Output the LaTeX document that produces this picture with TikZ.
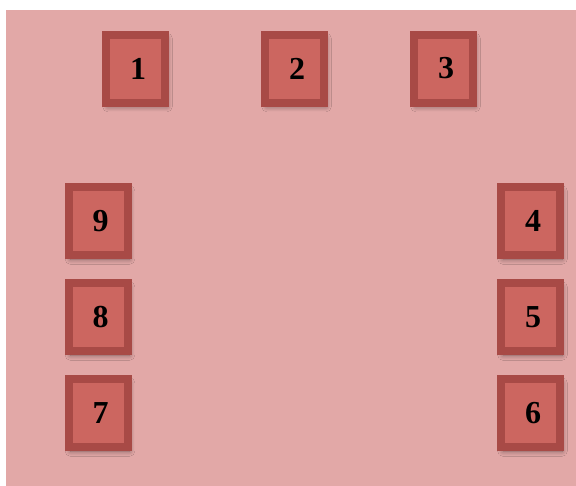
\documentclass[tikz,border=0pt]{standalone}
\usepackage{fontspec}
\setmainfont{Liberation Serif}
\usetikzlibrary{shadows.blur}
\definecolor{bgpink}{RGB}{226,168,167}
\definecolor{boxedge}{RGB}{168,74,70}
\definecolor{boxfill}{RGB}{204,102,96}
\tikzset{
  seat/.style={draw=boxedge, line width=6pt, fill=boxfill,
    minimum width=44.25pt, minimum height=51pt, inner sep=0pt,
    blur shadow={shadow xshift=1.5pt, shadow yshift=-3pt, shadow blur radius=4pt, shadow blur steps=12, shadow opacity=45},
    font=\fontsize{24}{24}\selectfont\bfseries, text=black},
}
\begin{document}
\begin{tikzpicture}[x=0.75pt,y=-0.75pt]
\useasboundingbox (0,0) rectangle (576,486);
\fill[white] (0,0) rectangle (576,486);
\fill[bgpink] (6,10) rectangle (576,486);
\node[seat] (n1) at (135.5,68.5) {\hspace{4pt}1};
\node[seat] (n2) at (294.5,68.5) {\hspace{4pt}2};
\node[seat] (n3) at (443.5,68.5) {\hspace{4pt}3};
\node[seat] (n9) at (98,221) {\hspace{4pt}9};
\node[seat] (n8) at (98,317) {\hspace{4pt}8};
\node[seat] (n7) at (98,413) {\hspace{4pt}7};
\node[seat] (n4) at (530.5,221) {\hspace{4pt}4};
\node[seat] (n5) at (530.5,317) {\hspace{4pt}5};
\node[seat] (n6) at (530.5,413) {\hspace{4pt}6};
\end{tikzpicture}
\end{document}
